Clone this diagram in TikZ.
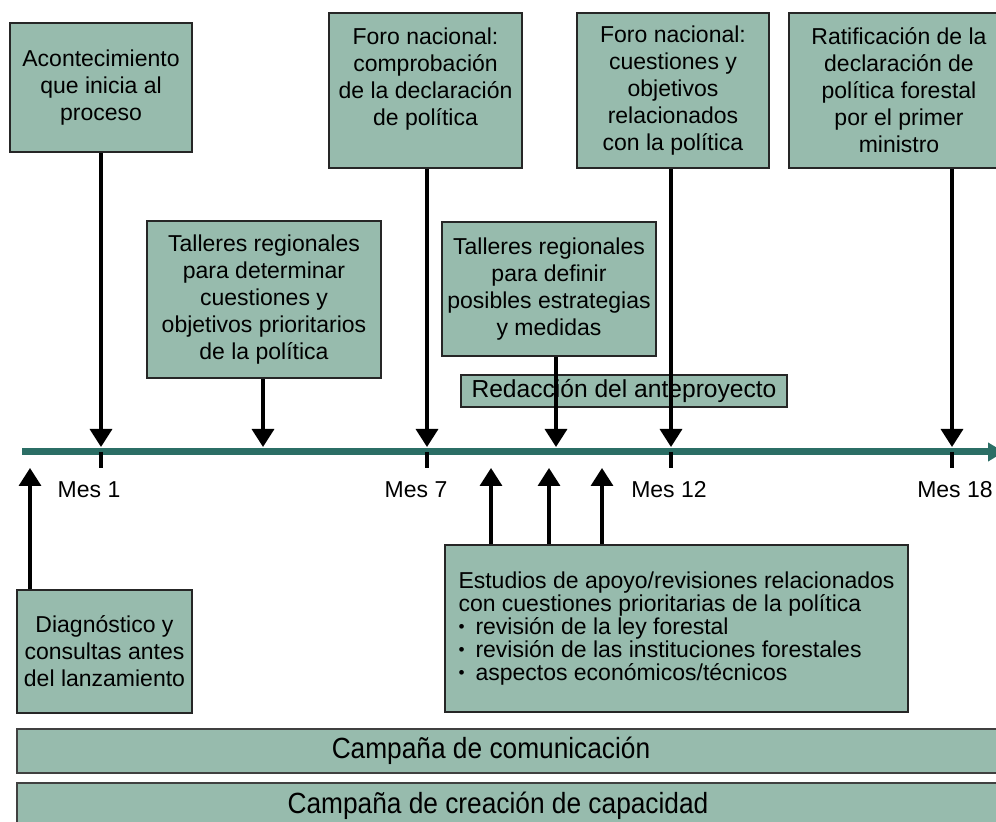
\documentclass[tikz,border=0pt]{standalone}
\usepackage{fontspec}
\setmainfont{Liberation Sans}
\newfontfamily\barfont[FakeStretch=0.9]{Liberation Sans}
\usepackage{graphicx}
\usepackage{xcolor}
\usetikzlibrary{arrows.meta,positioning}
\definecolor{boxgreen}{HTML}{97BBAD}
\definecolor{axisgreen}{HTML}{2B6E65}
\tikzset{
	box/.style={draw=black!85, line width=1pt, fill=boxgreen, align=center, inner sep=0pt,
		font=\fontsize{11.5pt}{13.5pt}\selectfont},
	bar/.style={draw=black!75, line width=1pt, fill=boxgreen, inner sep=0pt, minimum width=497pt,
		font=\barfont\fontsize{14.6pt}{16pt}\selectfont},
	arr/.style={line width=1.7pt, -{Triangle[width=11pt,length=9pt]}},
	mes/.style={font=\fontsize{11.5pt}{13.5pt}\selectfont}
}
\newcommand{\bul}{\makebox[8.5pt][l]{\raisebox{0.15ex}{\scalebox{0.75}{•}}}}

\begin{document}
\begin{tikzpicture}[x=0.5pt,y=-0.5pt]
		\useasboundingbox (0,0) rectangle (996,822);

		% time axis
		\draw[line width=3.5pt, axisgreen, -{Triangle[width=9pt,length=8pt]}] (22,452) -- (1004,452);
		\foreach \x in {101,427,671,952}
			\draw[line width=1.6pt] (\x,452) -- (\x,468);

		\coordinate (m1) at (101,447);
		\coordinate (tE) at (263,447);
		\coordinate (m7) at (427,447);
		\coordinate (tF) at (556,447);
		\coordinate (m12) at (671,447);
		\coordinate (m18) at (952,447);
		\coordinate (u0) at (30,468);
		\coordinate (u1) at (491,468);
		\coordinate (u2) at (549,468);
		\coordinate (u3) at (602,468);

		\node[mes] (mes1) at (89,490) {Mes 1};
		\node[mes] (mes7) at (416,490) {Mes 7};
		\node[mes] (mes12) at (669,490) {Mes 12};
		\node[mes] (mes18) at (955,490) {Mes 18};

		% boxes above the axis
		\node[box, minimum width=91pt, minimum height=64.5pt] (acont) at (101,87.5) {Acontecimiento\\que inicia al\\proceso};
		\node[box, minimum width=96.5pt, minimum height=77.5pt] (foroA) at (425.5,90.5) {Foro nacional:\\comprobación\\de la declaración\\de política\\ ~};
		\node[box, minimum width=96pt, minimum height=77.5pt] (foroB) at (673,90.5) {Foro nacional:\\cuestiones y\\objetivos\\relacionados\\con la política};
		\node[box, minimum width=110pt, minimum height=77.5pt] (ratif) at (899,90.5) {Ratificación de la\\declaración de\\política forestal\\por el primer\\ministro};
		\node[box, minimum width=117pt, minimum height=78.5pt] (tallerA) at (264,299.5) {Talleres regionales\\para determinar\\cuestiones y\\objetivos prioritarios\\de la política};
		\node[box, minimum width=107pt, minimum height=67pt] (tallerB) at (549,289) {Talleres regionales\\para definir\\posibles estrategias\\y medidas};
		\node[box, minimum width=163pt, minimum height=16pt, font=\fontsize{12.3pt}{14pt}\selectfont] (redac) at (624,391) {Redacción del anteproyecto};

		% boxes below the axis
		\node[box, minimum width=87.5pt, minimum height=61.5pt] (diag) at (104.5,651.5) {Diagnóstico y\\consultas antes\\del lanzamiento};
		\node[box, align=left, minimum width=231.5pt, minimum height=83.5pt, font=\fontsize{11.5pt}{11.5pt}\selectfont] (estud) at (676.5,628.5)
			{Estudios de apoyo/revisiones relacionados\\con cuestiones prioritarias de la política\\\bul revisión de la ley forestal\\\bul revisión de las instituciones forestales\\\bul aspectos económicos/técnicos};
		\node[bar, minimum height=22pt] (comun) at (513.5,751) {Campaña de comunicación\hspace*{22.5pt}};
		\node[bar, minimum height=23pt] (capac) at (513.5,806) {Campaña de creación de capacidad\hspace*{15.5pt}};

		\draw[arr] (acont.south -| m1) -- (m1);
		\draw[arr] (tallerA.south -| tE) -- (tE);
		\draw[arr] (foroA.south -| m7) -- (m7);
		\draw[arr] (tallerB.south -| tF) -- (tF);
		\draw[arr] (foroB.south -| m12) -- (m12);
		\draw[arr] (ratif.south -| m18) -- (m18);

		\draw[arr] (diag.north -| u0) -- (u0);
		\draw[arr] (estud.north -| u1) -- (u1);
		\draw[arr] (estud.north -| u2) -- (u2);
		\draw[arr] (estud.north -| u3) -- (u3);
	\end{tikzpicture}
\end{document}
